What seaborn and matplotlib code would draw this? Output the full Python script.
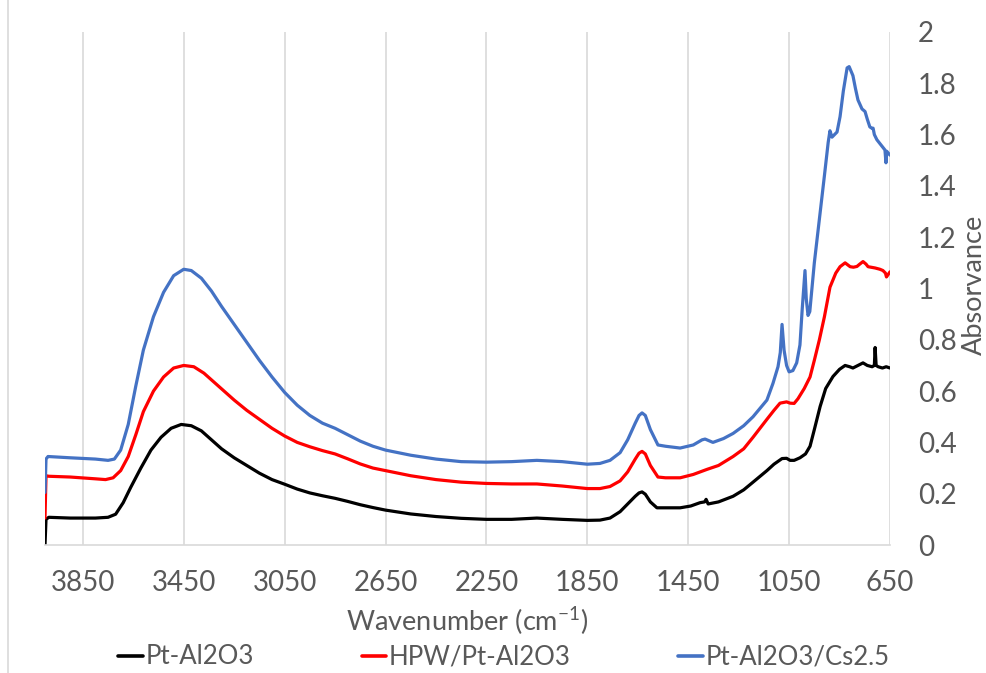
import numpy as np
import pandas as pd
import matplotlib
matplotlib.use("Agg")
import matplotlib.pyplot as plt
import seaborn as sns
from matplotlib.patches import Rectangle

# ---- data: (wavenumber, absorbance) ----
series_names = ["Pt-Al2O3", "HPW/Pt-Al2O3", "Pt-Al2O3/Cs2.5"]
series_colors = ["#000000", "#FF0000", "#4472C4"]

black_pts = [(4000, 0.0), (3996, 0.10), (3985, 0.108), (3900, 0.105), (3800, 0.105), (3750, 0.108),
             (3720, 0.12), (3690, 0.165), (3660, 0.225), (3620, 0.30), (3580, 0.37), (3540, 0.42),
             (3500, 0.455), (3460, 0.47), (3420, 0.465), (3380, 0.445), (3340, 0.41), (3300, 0.375),
             (3250, 0.34), (3200, 0.31), (3150, 0.28), (3100, 0.255), (3050, 0.237), (3000, 0.218),
             (2950, 0.203), (2900, 0.192), (2850, 0.182), (2800, 0.17), (2750, 0.157), (2700, 0.146),
             (2650, 0.136), (2550, 0.121), (2450, 0.111), (2350, 0.104), (2250, 0.100), (2150, 0.100),
             (2050, 0.105), (1950, 0.100), (1850, 0.096), (1800, 0.097), (1760, 0.105), (1720, 0.13),
             (1690, 0.16), (1660, 0.19), (1645, 0.203), (1633, 0.207), (1620, 0.198), (1600, 0.168),
             (1574, 0.145), (1540, 0.145), (1482, 0.145), (1440, 0.152), (1403, 0.165), (1385, 0.168),
             (1379, 0.178), (1371, 0.16), (1330, 0.168), (1272, 0.19), (1230, 0.215), (1193, 0.245),
             (1138, 0.29), (1110, 0.315), (1078, 0.337), (1060, 0.338), (1046, 0.33), (1030, 0.33),
             (1007, 0.34), (985, 0.355), (967, 0.385), (950, 0.45), (927, 0.54), (905, 0.61),
             (876, 0.657), (850, 0.685), (828, 0.70), (810, 0.695), (797, 0.69), (777, 0.70),
             (757, 0.71), (740, 0.70), (721, 0.695), (712, 0.70), (709, 0.77), (705, 0.70),
             (697, 0.695), (680, 0.69), (665, 0.695), (650, 0.69)]

red_pts = [(4000, 0.105), (3996, 0.27), (3985, 0.268), (3900, 0.265), (3800, 0.258), (3760, 0.255),
           (3730, 0.262), (3700, 0.29), (3670, 0.345), (3640, 0.43), (3610, 0.52), (3570, 0.60),
           (3530, 0.655), (3490, 0.69), (3450, 0.70), (3410, 0.695), (3370, 0.67), (3330, 0.635),
           (3290, 0.60), (3250, 0.565), (3200, 0.525), (3150, 0.49), (3100, 0.455), (3050, 0.425),
           (3000, 0.40), (2950, 0.383), (2900, 0.368), (2850, 0.355), (2800, 0.336), (2750, 0.316),
           (2700, 0.30), (2650, 0.29), (2550, 0.27), (2450, 0.255), (2350, 0.245), (2250, 0.24),
           (2150, 0.238), (2050, 0.238), (1950, 0.23), (1850, 0.22), (1800, 0.22), (1760, 0.228),
           (1720, 0.25), (1690, 0.285), (1660, 0.335), (1645, 0.358), (1633, 0.365), (1620, 0.355),
           (1600, 0.31), (1570, 0.265), (1540, 0.262), (1482, 0.262), (1430, 0.275), (1375, 0.295),
           (1330, 0.31), (1272, 0.345), (1230, 0.375), (1193, 0.42), (1138, 0.49), (1110, 0.525),
           (1086, 0.553), (1060, 0.558), (1046, 0.553), (1030, 0.552), (1015, 0.57), (990, 0.61),
           (967, 0.655), (950, 0.72), (930, 0.80), (910, 0.89), (888, 1.005), (865, 1.06),
           (848, 1.085), (828, 1.10), (808, 1.085), (795, 1.083), (781, 1.086), (770, 1.095),
           (757, 1.105), (745, 1.095), (737, 1.085), (720, 1.082), (709, 1.08), (690, 1.075),
           (678, 1.07), (668, 1.06), (664, 1.045), (650, 1.065)]

blue_pts = [(4000, 0.205), (3996, 0.335), (3988, 0.345), (3900, 0.34), (3800, 0.335), (3750, 0.33),
            (3725, 0.335), (3700, 0.37), (3670, 0.47), (3640, 0.62), (3610, 0.76), (3570, 0.89),
            (3530, 0.985), (3490, 1.05), (3450, 1.075), (3420, 1.07), (3380, 1.04), (3340, 0.99),
            (3300, 0.93), (3250, 0.86), (3200, 0.79), (3150, 0.72), (3100, 0.655), (3050, 0.595),
            (3000, 0.545), (2950, 0.505), (2900, 0.475), (2850, 0.455), (2800, 0.43), (2750, 0.405),
            (2700, 0.385), (2650, 0.37), (2550, 0.35), (2450, 0.335), (2350, 0.325), (2250, 0.323),
            (2150, 0.325), (2050, 0.33), (1950, 0.325), (1850, 0.315), (1800, 0.318), (1760, 0.33),
            (1720, 0.36), (1690, 0.41), (1660, 0.475), (1645, 0.505), (1633, 0.515), (1620, 0.505),
            (1600, 0.45), (1570, 0.39), (1540, 0.385), (1482, 0.378), (1430, 0.39), (1395, 0.41),
            (1383, 0.413), (1352, 0.40), (1310, 0.415), (1272, 0.435), (1230, 0.465), (1193, 0.50),
            (1138, 0.565), (1114, 0.63), (1094, 0.695), (1085, 0.75), (1078, 0.86), (1070, 0.76),
            (1060, 0.70), (1050, 0.675), (1035, 0.68), (1020, 0.71), (1007, 0.78), (998, 0.92),
            (987, 1.07), (982, 0.96), (975, 0.895), (968, 0.91), (950, 1.10), (930, 1.27),
            (910, 1.44), (895, 1.57), (888, 1.615), (880, 1.59), (870, 1.60), (860, 1.61),
            (848, 1.67), (835, 1.77), (820, 1.86), (812, 1.865), (797, 1.83), (787, 1.78),
            (777, 1.735), (761, 1.70), (749, 1.69), (740, 1.66), (730, 1.63), (722, 1.625),
            (717, 1.625), (712, 1.60), (702, 1.58), (690, 1.565), (678, 1.55), (670, 1.54),
            (666, 1.49), (663, 1.535), (650, 1.52)]

x_ticks = [3850, 3450, 3050, 2650, 2250, 1850, 1450, 1050, 650]
y_ticks = [0, 0.2, 0.4, 0.6, 0.8, 1, 1.2, 1.4, 1.6, 1.8, 2]
y_tick_labels = ["0", "0.2", "0.4", "0.6", "0.8", "1", "1.2", "1.4", "1.6", "1.8", "2"]

frames = []
for name, pts in zip(series_names, [black_pts, red_pts, blue_pts]):
    f = pd.DataFrame(pts, columns=["wn", "abs"])
    f["sample"] = name
    frames.append(f)
df = pd.concat(frames, ignore_index=True)

# ---- styling ----
sns.set_theme(style="white")
plt.rcParams["font.family"] = ["Lato", "DejaVu Sans"]
plt.rcParams["mathtext.default"] = "regular"
text_color = "#595959"
grid_color = "#d9d9d9"
tick_fs = 20
text_fs = 19.5
legend_fs = 18.5

fig = plt.figure(figsize=(9.87, 6.73), dpi=100)
ax = fig.add_axes([45 / 987, 1 - 545 / 673, (890 - 45) / 987, (545 - 32) / 673])

sns.lineplot(data=df, x="wn", y="abs", hue="sample", palette=dict(zip(series_names, series_colors)),
             hue_order=series_names, sort=False, estimator=None, linewidth=2.3, ax=ax, legend=True)

ax.set_xlim(4000, 650)
ax.set_ylim(0, 2)
ax.set_xticks(x_ticks)
ax.set_xticklabels([str(t) for t in x_ticks])
ax.set_yticks(y_ticks)
ax.set_yticklabels(y_tick_labels)
ax.yaxis.tick_right()
ax.tick_params(axis="y", length=0, pad=20, labelsize=tick_fs, labelcolor=text_color)
ax.tick_params(axis="x", length=0, pad=18, labelsize=tick_fs, labelcolor=text_color)
for lab in ax.get_yticklabels():
    lab.set_horizontalalignment("left")

ax.grid(axis="x", color=grid_color, linewidth=1.2)
ax.grid(axis="y", visible=False)
for s in ["top", "left", "right"]:
    ax.spines[s].set_visible(False)
ax.spines["bottom"].set_color(grid_color)
ax.spines["bottom"].set_linewidth(1.2)
ax.set_axisbelow(True)

ax.set_xlabel("Wavenumber (cm$^{-1}$)", fontsize=text_fs, color=text_color, labelpad=7)
ax.set_ylabel("")

fig.text(962 / 987, 1 - 285 / 673, "Absorvance", rotation=90, ha="left", va="center",
         fontsize=text_fs, color=text_color)

handles, labels = ax.get_legend_handles_labels()
ax.get_legend().remove()
leg = fig.legend(handles, labels, loc="center", bbox_to_anchor=(504 / 987, 1 - 657 / 673), ncol=3,
                 frameon=False, fontsize=legend_fs, handlelength=0.95, handletextpad=0.1,
                 columnspacing=4.2, labelcolor=text_color, borderpad=0)
for h in leg.get_lines():
    h.set_linewidth(2.6)

# outer chart border
fig.patches.append(Rectangle((8 / 987, -0.2), 1.2, 1.2 + (1 - 13 / 673), transform=fig.transFigure,
                             fill=False, edgecolor=grid_color, linewidth=1.2))

fig.savefig("out.png", dpi=100)
